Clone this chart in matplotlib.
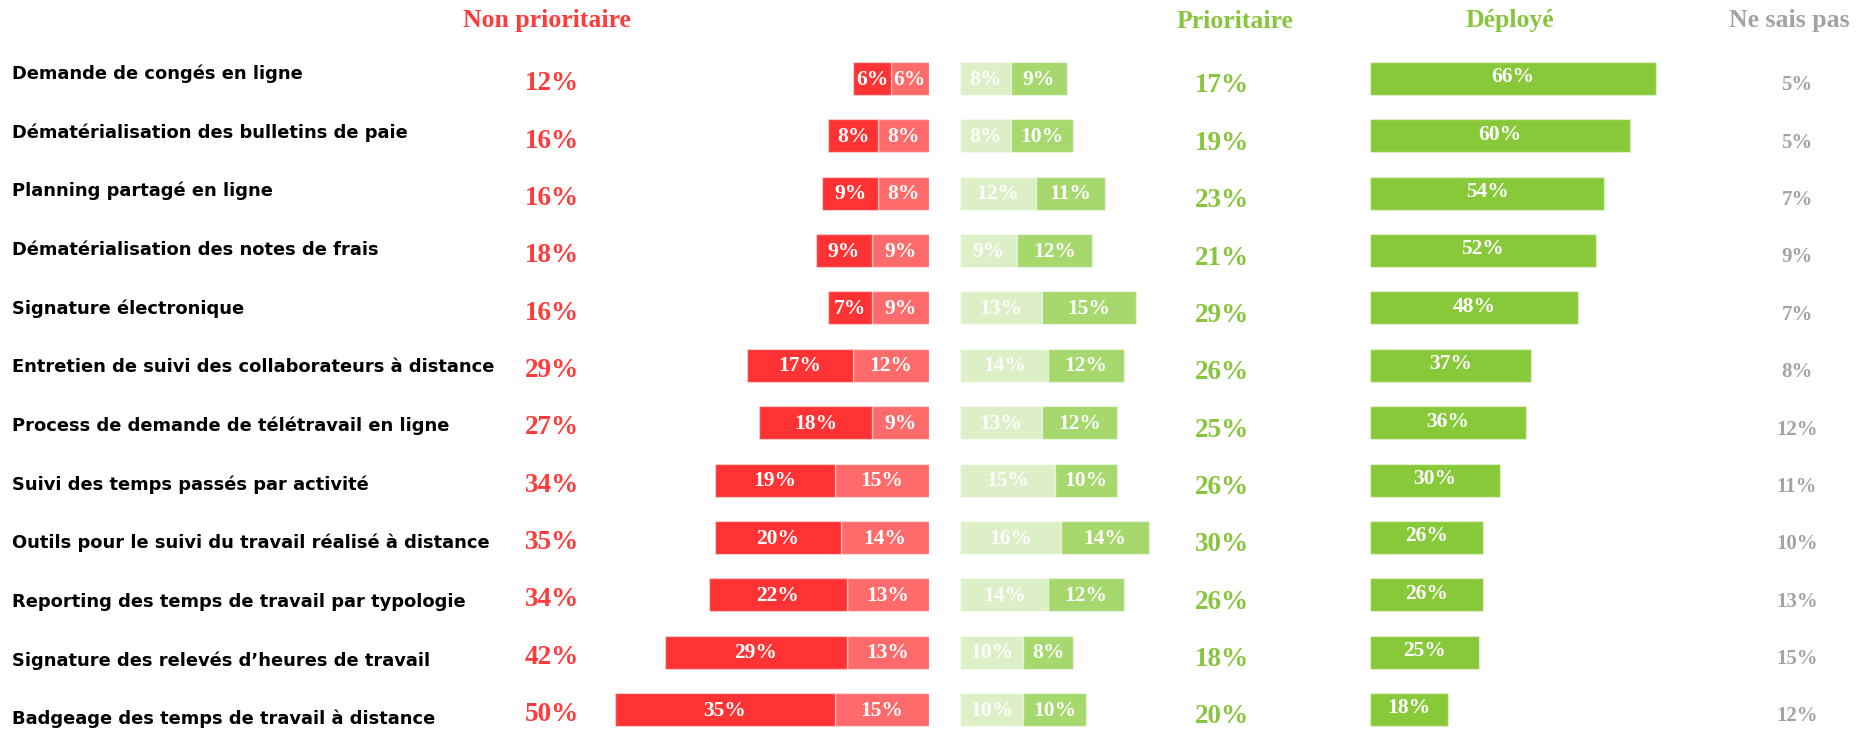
import matplotlib
matplotlib.use("Agg")
import matplotlib.pyplot as plt
import matplotlib.transforms as mtransforms
import numpy as np

categories = [
    "Demande de congés en ligne",
    "Dématérialisation des bulletins de paie",
    "Planning partagé en ligne",
    "Dématérialisation des notes de frais",
    "Signature électronique",
    "Entretien de suivi des collaborateurs à distance",
    "Process de demande de télétravail en ligne",
    "Suivi des temps passés par activité",
    "Outils pour le suivi du travail réalisé à distance",
    "Reporting des temps de travail par typologie",
    "Signature des relevés d’heures de travail",
    "Badgeage des temps de travail à distance",
]
non_prio_total = [12, 16, 16, 18, 16, 29, 27, 34, 35, 34, 42, 50]
non_prio_dark = [6, 8, 9, 9, 7, 17, 18, 19, 20, 22, 29, 35]
non_prio_light = [6, 8, 8, 9, 9, 12, 9, 15, 14, 13, 13, 15]
prio_light = [8, 8, 12, 9, 13, 14, 13, 15, 16, 14, 10, 10]
prio_dark = [9, 10, 11, 12, 15, 12, 12, 10, 14, 12, 8, 10]
prio_total = [17, 19, 23, 21, 29, 26, 25, 26, 30, 26, 18, 20]
deployed = [66, 60, 54, 52, 48, 37, 36, 30, 26, 26, 25, 18]
ne_sais_pas = [5, 5, 7, 9, 7, 8, 12, 11, 10, 13, 15, 12]
headers = ["Non prioritaire", "Prioritaire", "Déployé", "Ne sais pas"]

RED_DARK = "#FF3333"
RED_LIGHT = "#FF6B6B"
GREEN_LIGHT = "#DCEFC6"
GREEN_DARK = "#A6D86E"
GREEN_DEP = "#88C93A"
RED_TXT = "#FF3B3B"
GREEN_TXT = "#88C53C"
GRAY_TXT = "#A3A3A3"
SERIF = "Liberation Serif"
SANS = "DejaVu Sans"

W, H = 1860, 730
fig = plt.figure(figsize=(W / 100, H / 100), dpi=100)

def ax_at(left_px, width_px):
    return fig.add_axes([left_px / W, 0, width_px / W, 1])

px_per_pct = 6.28
ax_red = ax_at(928.7 - 60 * px_per_pct, 60 * px_per_pct)
ax_grn = ax_at(960.3, 40 * px_per_pct)
ax_dep = ax_at(1370, 80 * 4.34)

row_px, first_px = 57.36, 78.5
ylim = ((H - first_px) / row_px, -first_px / row_px)
for a in (ax_red, ax_grn, ax_dep):
    a.set_ylim(*ylim)
    a.axis("off")
ax_red.set_xlim(60, 0)
ax_grn.set_xlim(0, 40)
ax_dep.set_xlim(0, 80)

y = np.arange(len(categories))
bh = 0.575
edge = (1, 1, 1, 0.45)
nl = np.array(non_prio_light)
nd = np.array(non_prio_dark)
pl = np.array(prio_light)
pd_ = np.array(prio_dark)
dep = np.array(deployed)

ax_red.barh(y, nl, height=bh, color=RED_LIGHT, edgecolor=edge, linewidth=1)
ax_red.barh(y, nd, left=nl, height=bh, color=RED_DARK, edgecolor=edge, linewidth=1)
ax_grn.barh(y, pl, height=bh, color=GREEN_LIGHT, edgecolor=edge, linewidth=1)
ax_grn.barh(y, pd_, left=pl, height=bh, color=GREEN_DARK, edgecolor=edge, linewidth=1)
ax_dep.barh(y, dep, height=bh, color=GREEN_DEP, edgecolor=edge, linewidth=1)

lab_kw = dict(ha="center", va="center", color="white", fontweight="bold", family=SERIF)
for i in range(len(categories)):
    ax_red.text(nl[i] / 2, i + 0.02, f"{nl[i]}%", fontsize=15.5, **lab_kw)
    ax_red.text(nl[i] + nd[i] / 2, i + 0.02, f"{nd[i]}%", fontsize=15.5, **lab_kw)
    ax_grn.text(pl[i] / 2, i + 0.02, f"{pl[i]}%", fontsize=15.5, **lab_kw)
    ax_grn.text(pl[i] + pd_[i] / 2, i + 0.02, f"{pd_[i]}%", fontsize=15.5, **lab_kw)
    ax_dep.text(dep[i] / 2, i - 0.02, f"{dep[i]}%", fontsize=15.5, **lab_kw)

tr = mtransforms.blended_transform_factory(fig.transFigure, ax_red.transData)
for i, cat in enumerate(categories):
    fig.text(12 / W, -0.08 + 1.0227 * i, cat, transform=tr, ha="left", va="center",
             fontsize=12.9, fontweight="bold", family=SANS, color="black")
    fig.text(551.6 / W, i + 0.09, f"{non_prio_total[i]}%", transform=tr, ha="center",
             va="center", fontsize=19.5, fontweight="bold", family=SERIF, color=RED_TXT)
    fig.text(1222 / W, i + 0.13, f"{prio_total[i]}%", transform=tr, ha="center",
             va="center", fontsize=19.5, fontweight="bold", family=SERIF, color=GREEN_TXT)
    fig.text(1797 / W, i + 0.12, f"{ne_sais_pas[i]}%", transform=tr, ha="center",
             va="center", fontsize=15, fontweight="bold", family=SERIF, color=GRAY_TXT)

hdr_x = [547, 1235, 1510, 1789]
hdr_c = [RED_TXT, GREEN_TXT, GREEN_TXT, GRAY_TXT]
for t, xp, c in zip(headers, hdr_x, hdr_c):
    fig.text(xp / W, 1 - 21 / H, t, ha="center", va="center", fontsize=18.5,
             fontweight="bold", family=SERIF, color=c)

fig.savefig("out.png", dpi=100, facecolor="white")
